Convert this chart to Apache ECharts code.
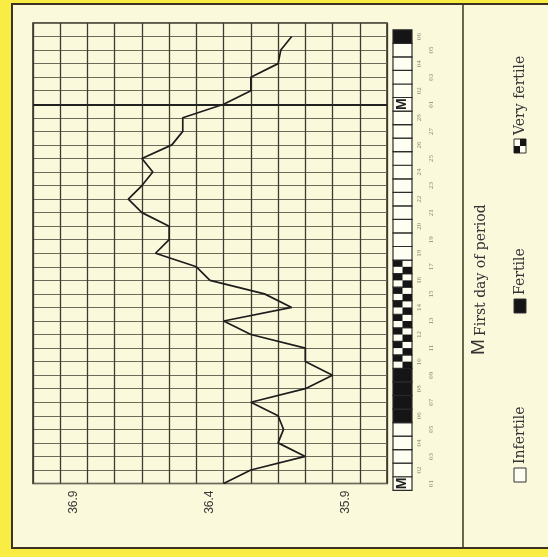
<!DOCTYPE html>
<html><head><meta charset="utf-8">
<script src="https://cdn.jsdelivr.net/npm/echarts@6/dist/echarts.min.js"></script>
<style>html,body{margin:0;padding:0;background:#f8ec45;}#c{width:548px;height:557px;}</style>
</head><body><div id="c"></div>
<script>
// Temperature columns (left to right), each 0.1 °C wide
const tempCategories = ['37.0','36.9','36.8','36.7','36.6','36.5','36.4','36.3','36.2','36.1','36.0','35.9','35.8'];
const tempTickLabels = ['36.9','36.4','35.9'];
// Cycle days (bottom to top)
const dayLabels = ['01','02','03','04','05','06','07','08','09','10','11','12','13','14','15','16','17','18','19','20','21','22','23','24','25','26','27','28','01','02','03','04','05','06'];
// Basal temperature per day (°C)
const temperatures = [36.35,36.25,36.05,36.15,36.13,36.15,36.25,36.05,35.95,36.05,36.05,36.25,36.35,36.10,36.20,36.40,36.45,36.60,36.55,36.55,36.65,36.70,36.65,36.61,36.65,36.54,36.50,36.50,36.35,36.25,36.25,36.15,36.14,36.10];
// Fertility strip: M = first day of period, I = infertile, F = fertile, V = very fertile
const fertility = ['M','I','I','I','I','F','F','F','F','V','V','V','V','V','V','V','V','I','I','I','I','I','I','I','I','I','I','I','M','I','I','I','I','F'];
const periodStartIndex = 28;

const chart = echarts.init(document.getElementById('c'));
const ink = '#2b281d';
const paper = '#fbf9dc';

function checker(x, y, w, h, startBlack) {
  const out = [];
  for (let r = 0; r < 2; r++) for (let c = 0; c < 2; c++) {
    if (((r + c) % 2 === 0) === startBlack) {
      out.push({type:'rect', shape:{x:x + c*w/2, y:y + r*h/2, width:w/2, height:h/2}, style:{fill:'#151515'}});
    }
  }
  return out;
}

function legendItem(x, y, kind, label) {
  const children = [{type:'rect', shape:{x:0, y:-6, width:14, height:12}, style:{fill: kind==='F' ? '#151515' : '#fffef2', stroke:'#333', lineWidth:1}}];
  if (kind === 'V') {
    checker(0, -6, 14, 12, true).forEach(c => children.push(c));
  }
  children.push({type:'text', x:18, y:0, style:{text:label, font:'14px "DejaVu Serif"', fill:'#333', align:'left', verticalAlign:'middle'}});
  return {type:'group', x:x, y:y, rotation:Math.PI/2, children:children};
}

chart.setOption({
  backgroundColor:'#f8ec45',
  animation:false,
  graphic:[
    {type:'rect', z:-100, shape:{x:12, y:4, width:545, height:544}, style:{fill:paper, stroke:'#3a3320', lineWidth:2}},
    {type:'line', z:-99, shape:{x1:463, y1:4, x2:463, y2:548}, style:{stroke:'#3a3320', lineWidth:1.5}},
    legendItem(520, 482, 'I', 'Infertile'),
    legendItem(520, 313, 'F', 'Fertile'),
    legendItem(520, 153, 'V', 'Very fertile'),
    {type:'group', x:481, y:355, rotation:Math.PI/2, children:[
      {type:'text', x:0, y:7, style:{text:'M', font:'19px "Liberation Sans"', fill:'#333', align:'left', verticalAlign:'bottom'}},
      {type:'text', x:19, y:7, style:{text:'First day of period', font:'14px "DejaVu Serif"', fill:'#333', align:'left', verticalAlign:'bottom'}}
    ]}
  ],
  grid:[
    {left:33, top:23, width:354, height:460.5, show:true, backgroundColor:'transparent', borderColor:ink, borderWidth:1.5},
    {left:393, top:29.8, width:19, height:460.5}
  ],
  xAxis:[
    {gridIndex:0, type:'category', data:tempCategories, boundaryGap:true, position:'bottom',
     axisLine:{show:false}, axisTick:{show:false},
     splitLine:{show:true, interval:0, lineStyle:{color:'#3e3b2e', width:1.3}},
     axisLabel:{interval:0, rotate:90, margin:7, fontSize:12, color:'#3a3a3a', fontFamily:'Liberation Sans',
       formatter:v => tempTickLabels.indexOf(v) >= 0 ? v : ''}},
    {gridIndex:0, type:'value', min:35.75, max:37.05, inverse:true, show:false},
    {gridIndex:1, type:'value', min:0, max:1, show:false}
  ],
  yAxis:[
    {gridIndex:0, type:'value', min:0, max:34, interval:1,
     axisLabel:{show:false}, axisLine:{show:false}, axisTick:{show:false},
     splitLine:{show:true, lineStyle:{color:'#6e6a5a', width:1}}},
    {gridIndex:1, type:'category', data:dayLabels, position:'right',
     axisLine:{show:false}, axisTick:{show:false}, splitLine:{show:false},
     axisLabel:{interval:(i) => i % 2 === 1, rotate:90, margin:4, fontSize:7, color:'#8a8878', fontFamily:'Liberation Serif'}},
    {gridIndex:1, type:'category', data:dayLabels, position:'right',
     axisLine:{show:false}, axisTick:{show:false}, splitLine:{show:false},
     axisLabel:{interval:(i) => i % 2 === 0, rotate:90, margin:16, fontSize:7, color:'#8a8878', fontFamily:'Liberation Serif'}}
  ],
  series:[
    {type:'line', xAxisIndex:1, yAxisIndex:0, showSymbol:false, silent:true,
     data:temperatures.map((t, i) => [t, i]),
     lineStyle:{color:'#1d1d1d', width:1.7},
     markLine:{silent:true, symbol:'none', label:{show:false},
       lineStyle:{color:'#222', width:2.2, type:'solid'},
       data:[{yAxis:periodStartIndex}]}},
    {type:'custom', xAxisIndex:2, yAxisIndex:1, silent:true,
     data:fertility.map((s, i) => [0, i]),
     renderItem:function(params, api){
       const idx = api.value(1);
       const p = api.coord([0, idx]);
       const sz = api.size([1, 1]);
       const w = sz[0], h = sz[1];
       const x = p[0], y = p[1] - h/2;
       const st = fertility[params.dataIndex];
       const children = [{type:'rect', shape:{x:x, y:y, width:w, height:h},
         style:{fill: st === 'F' ? '#151515' : '#fffef2', stroke:'#2a2a2a', lineWidth:1.2}}];
       if (st === 'V') {
         checker(x, y, w, h, true).forEach(c => children.push(c));
       }
       if (st === 'M') {
         children.push({type:'text', x:x + w/2, y:p[1], rotation:Math.PI/2,
           style:{text:'M', font:'bold 14px "Liberation Sans"', fill:'#222', align:'center', verticalAlign:'middle'}});
       }
       return {type:'group', children:children};
     }}
  ]
});
</script>
</body></html>
